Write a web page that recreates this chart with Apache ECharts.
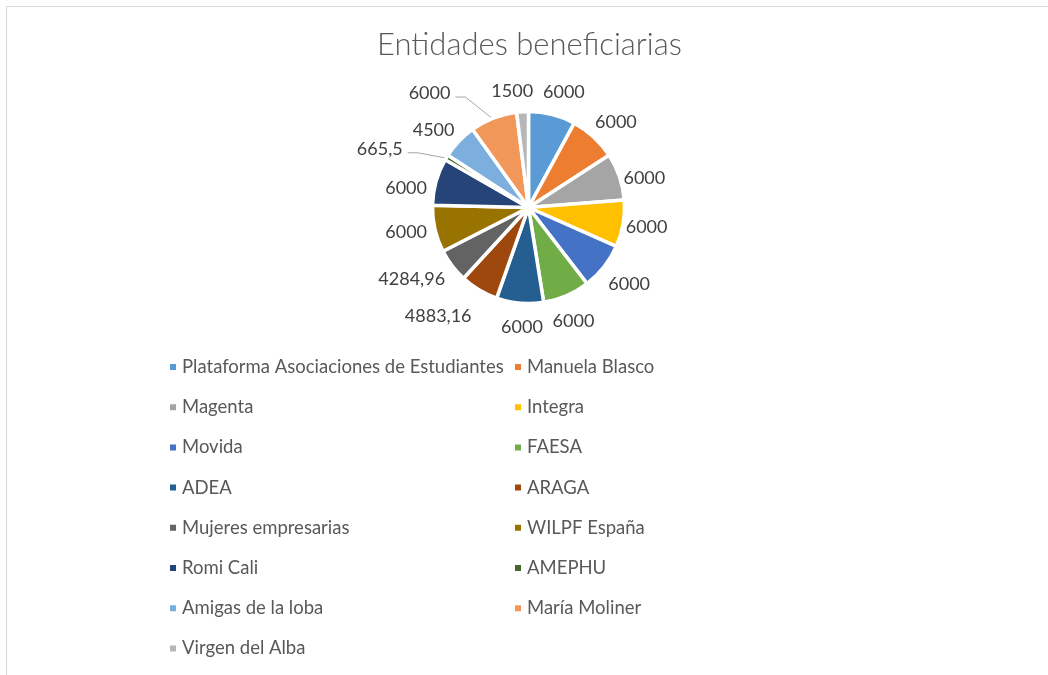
<!DOCTYPE html>
<html>
<head>
<meta charset="utf-8">
<script src="https://cdn.jsdelivr.net/npm/echarts@6/dist/echarts.min.js"></script>
<style>
  html, body { margin: 0; padding: 0; background: #fff; }
  #frame { position: absolute; left: 6px; top: 6px; width: 1100px; height: 700px;
           border-top: 1.5px solid #d9d9d9; border-left: 1.5px solid #d9d9d9; }
  #chart { position: absolute; left: 0; top: 0; width: 1048px; height: 675px; }
</style>
</head>
<body>
<div id="frame"></div>
<div id="chart"></div>
<script>
// datos
const entidades = [
  "Plataforma Asociaciones de Estudiantes", "Manuela Blasco", "Magenta", "Integra",
  "Movida", "FAESA", "ADEA", "ARAGA", "Mujeres empresarias", "WILPF España",
  "Romi Cali", "AMEPHU", "Amigas de la loba", "María Moliner", "Virgen del Alba"
];
const importes = [6000, 6000, 6000, 6000, 6000, 6000, 6000, 4883.16, 4284.96, 6000, 6000, 665.5, 4500, 6000, 1500];
const colores = [
  "#5B9BD5", "#ED7D31", "#A5A5A5", "#FFC000", "#4472C4", "#70AD47", "#255E91",
  "#9E480E", "#636363", "#997300", "#264478", "#43682B", "#7CAFDD", "#F1975A", "#B7B7B7"
];

// ajustes de posicion de etiquetas (como las coloca Excel) y las que llevan linea guia
const nudge = {
  "Plataforma Asociaciones de Estudiantes": [6, 0],
  "Manuela Blasco": [4, 5],
  "Magenta": [1, 10],
  "Movida": [4, 1],
  "FAESA": [-3, 3],
  "ADEA": [4, 3],
  "ARAGA": [-25, 0],
  "Mujeres empresarias": [-13, -7],
  "WILPF España": [-5, -2],
  "Romi Cali": [-6, 13],
  "AMEPHU": [-43, 6],
  "Amigas de la loba": [-6, 8],
  "María Moliner": [-55, -2],
  "Virgen del Alba": [-9, 0]
};
const conLinea = ["AMEPHU", "María Moliner"];

const CX = 528.5, CY = 207.5, R = 96;

// angulo medio de cada porcion (grados, horario desde arriba)
const total = importes.reduce((a, b) => a + b, 0);
let acc = 0;
const midAngles = importes.map(v => {
  const m = (acc + v / 2) / total * 360;
  acc += v;
  return m;
});

let chart = echarts.init(document.getElementById("chart"));

const legendText = { fontFamily: "Lato", fontSize: 18.5, color: "#595959", lineHeight: 20 };

chart.setOption({
  color: colores,
  title: {
    text: "Entidades beneficiarias",
    left: 372,
    top: 24,
    textStyle: { fontFamily: "Lato", fontSize: 31, fontWeight: 300, color: "#595959" }
  },
  legend: [
    {
      data: entidades.filter((n, i) => i % 2 === 0),
      orient: "vertical",
      left: 168,
      top: 357,
      padding: 0,
      itemGap: 20.2,
      itemWidth: 8,
      itemHeight: 8,
      icon: "rect",
      selectedMode: false,
      textStyle: legendText
    },
    {
      data: entidades.filter((n, i) => i % 2 === 1),
      orient: "vertical",
      left: 513,
      top: 357,
      padding: 0,
      itemGap: 20.2,
      itemWidth: 8,
      itemHeight: 8,
      icon: "rect",
      selectedMode: false,
      textStyle: legendText
    }
  ],
  series: [
    {
      type: "pie",
      center: [CX, CY],
      radius: R,
      startAngle: 90,
      avoidLabelOverlap: false,
      animation: false,
      itemStyle: { borderColor: "#fff", borderWidth: 3.5 },
      label: {
        show: true,
        position: "outside",
        fontFamily: "Lato",
        fontSize: 18,
        color: "#404040",
        formatter: p => String(p.value).replace(".", ",")
      },
      labelLine: { show: false, lineStyle: { color: "#A6A6A6", width: 1 } },
      labelLayout: function (p) {
        const i = p.dataIndex;
        const a = midAngles[i] * Math.PI / 180;
        const ux = Math.sin(a), uy = -Math.cos(a);
        const w = p.labelRect.width;
        const d = R + 6 + 0.75 * (w / 2) * Math.abs(ux) + 14 * Math.abs(uy);
        const n = nudge[entidades[i]] || [0, 0];
        const x = CX + d * ux + n[0];
        const y = CY + d * uy + n[1];
        const out = { x: x, y: y, align: "center", verticalAlign: "middle" };
        if (conLinea.indexOf(entidades[i]) >= 0) {
          out.labelLinePoints = [
            [CX + (R - 2) * ux, CY + (R - 2) * uy],
            [x + w / 2 + 15, y + 4],
            [x + w / 2 + 5, y + 4]
          ];
        }
        return out;
      },
      data: entidades.map((n, i) => ({
        name: n,
        value: importes[i],
        labelLine: { show: conLinea.indexOf(n) >= 0 }
      }))
    }
  ]
});
</script>
</body>
</html>
